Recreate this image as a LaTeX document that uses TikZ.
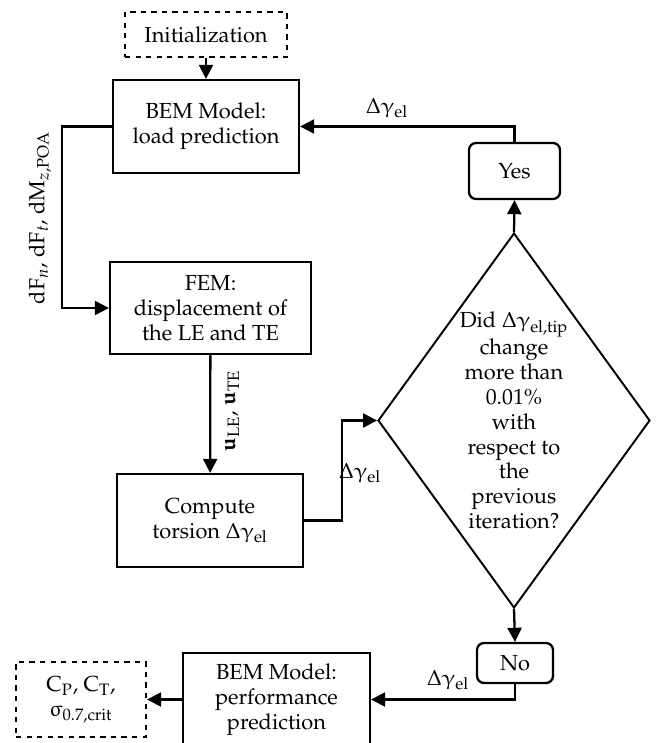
\documentclass[tikz,border=0pt]{standalone}
\usepackage[T1]{fontenc}
\usepackage{mathpazo}
\usepackage{upgreek}
\usetikzlibrary{arrows.meta,shapes.geometric}

\begin{document}
\begin{tikzpicture}[x=0.02cm, y=-0.02cm,
  every node/.style={font=\fontsize{12.4}{14.2}\selectfont},
  stepbox/.style={draw, line width=1.3pt, align=center, inner sep=0pt},
  endbox/.style={draw, dashed, line width=1.3pt, align=center, inner sep=0pt},
  answer/.style={draw, line width=1.3pt, rounded corners=4pt, inner sep=0pt},
  flow/.style={line width=1.3pt, -{Triangle[length=8pt,width=8pt]}},
  lbl/.style={inner sep=1pt}]

% Frame
\useasboundingbox (0,0) rectangle (657,743);

% Boxes
\node[endbox, minimum width=3.24cm, minimum height=0.9cm] (init) at (206,34.5) {Initialization};
\node[stepbox, minimum width=3.72cm, minimum height=1.86cm] (bemload) at (206,126.5) {BEM Model:\\load prediction};
\node[stepbox, minimum width=4.02cm, minimum height=1.84cm] (fem) at (210.5,308) {FEM:\\displacement of\\the LE and TE};
\node[stepbox, minimum width=3.72cm, minimum height=1.86cm] (torsion) at (210,520.5) {Compute\\torsion $\Delta\upgamma_{\mathrm{el}}$};
\node[stepbox, minimum width=3.74cm, minimum height=1.86cm] (bemperf) at (276.5,699.5) {BEM Model:\\performance\\prediction};
\node[endbox, minimum width=2.6cm, minimum height=1.5cm] (result) at (81,699.5) {C$_\mathrm{P}$, C$_\mathrm{T}$,\\$\upsigma_{0.7,\mathrm{crit}}$};

% Decision
\node[diamond, draw, line width=1.1pt, align=center, inner sep=0pt, aspect=0.725,
  minimum width=5.44cm, minimum height=7.5cm] (check) at (514,420.5)
  {Did $\Delta\upgamma_{\mathrm{el,tip}}$\\change\\more than\\0.01\%\\with\\respect to\\the\\previous\\iteration?};
\node[answer, minimum width=1.82cm, minimum height=1.12cm] (yes) at (514.5,171) {Yes};
\node[answer, minimum width=1.52cm, minimum height=0.8cm] (no) at (515,663) {No};

% Corners
\coordinate (loopleft) at (62,126.5);
\coordinate (loopright) at (342,520.5);

% Connectors
\draw[flow] (init) -- (bemload);
\draw[flow] (bemload.west) -- (loopleft) |- (fem.west);
\draw[flow] (fem) -- (torsion);
\draw[flow] (torsion.east) -- (loopright) |- (check.west);
\draw[flow] (check.north) -- (yes.south);
\draw[flow] (yes.north) |- (bemload.east);
\draw[flow] (check.south) -- (no.north);
\draw[flow] (no.south) |- (bemperf.east);
\draw[flow] (bemperf) -- (result);

% Labels
\node[lbl, rotate=90] (forces) at (40,218) {dF$_n$, dF$_t$, dM$_{z,\mathrm{POA}}$};
\node[lbl, rotate=90] (disp) at (232,411) {$\mathbf{u}_{\mathrm{LE}}$, $\mathbf{u}_{\mathrm{TE}}$};
\node[lbl] (gtop) at (387,108) {$\Delta\upgamma_{\mathrm{el}}$};
\node[lbl] (gmid) at (360,473) {$\Delta\upgamma_{\mathrm{el}}$};
\node[lbl] (gbot) at (448,680) {$\Delta\upgamma_{\mathrm{el}}$};

\end{tikzpicture}
\end{document}
